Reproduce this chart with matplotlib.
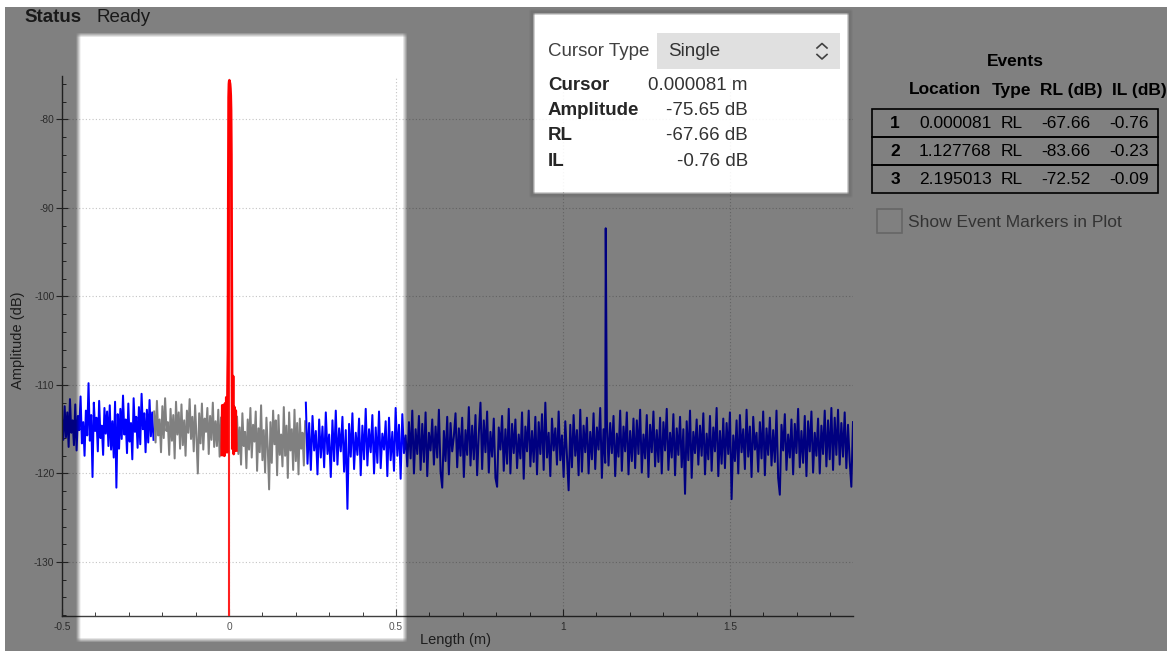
import numpy as np
import matplotlib
matplotlib.use("Agg")
import matplotlib.pyplot as plt
from matplotlib.patches import Rectangle
from matplotlib.lines import Line2D
from matplotlib.ticker import MultipleLocator

plt.rcParams['font.family'] = ['Liberation Sans', 'DejaVu Sans']

# ---- trace data (dB) ----
# left blue segment, -0.5 .. -0.226 m
left_blue = [
    -113.8, -116.2, -112.4, -115.9, -113.1, -117.0, -111.6, -115.4, -114.0, -116.8,
    -112.2, -117.4, -113.5, -115.1, -111.3, -116.6, -114.2, -118.0, -112.9, -115.7,
    -109.8, -116.3, -113.4, -120.4, -112.0, -115.2, -113.7, -117.5, -111.8, -116.0,
    -114.6, -117.9, -112.6, -115.5, -113.0, -116.9, -112.3, -117.3, -114.1, -118.2,
    -111.9, -121.6, -113.3, -117.2, -112.7, -116.1, -111.2, -115.6, -113.9, -117.7,
    -112.1, -116.4, -114.3, -118.4, -111.5, -115.3, -113.6, -117.1, -112.5, -116.7,
    -111.0, -115.0, -113.2, -117.6, -112.8, -116.5, -111.7, -115.8, -113.1, -116.2,
]
# grey segment left of the event, -0.224 .. -0.024 m
left_grey = [
    -113.0, -116.5, -111.8, -115.7, -113.9, -117.6, -112.4, -116.0, -111.5, -115.2,
    -114.2, -117.9, -112.7, -116.3, -113.4, -118.3, -111.9, -115.6, -113.1, -117.2,
    -112.2, -116.8, -114.0, -118.0, -112.9, -115.4, -111.6, -116.1, -113.6, -117.5,
    -112.3, -115.9, -120.0, -113.2, -116.6, -112.1, -117.3, -113.8, -115.3, -112.6,
    -117.8, -113.5, -116.2, -112.0, -117.0, -114.1, -116.9, -112.8, -118.1, -113.7,
]
# selected event (red), explicit positions
red_x = [-0.022, -0.020, -0.018, -0.016, -0.014, -0.012, -0.010, -0.008, -0.006,
         -0.004, -0.003, -0.002, -0.001, 0.000, 0.001, 0.002, 0.003, 0.004, 0.005,
         0.006, 0.007, 0.008, 0.009, 0.010, 0.012, 0.014, 0.016, 0.018, 0.020, 0.022]
red_y = [-117.9, -112.3, -117.5, -112.8, -118.0, -112.1, -116.9, -111.4, -117.6,
         -109.2, -106.0, -88.0, -77.5, -76.0, -75.6, -75.8, -76.0, -76.5, -77.3,
         -79.0, -84.0, -97.0, -108.5, -117.2, -109.0, -117.8, -112.5, -116.6, -112.9, -117.4]
# grey segment right of the event, 0.024 .. 0.228 m
right_grey = [
    -113.6, -117.8, -114.8, -119.0, -113.2, -116.9, -115.3, -119.4, -113.9, -117.3,
    -112.6, -118.2, -114.5, -116.4, -113.0, -119.7, -114.9, -117.6, -112.3, -118.5,
    -115.1, -119.9, -113.7, -117.1, -121.8, -114.2, -118.8, -112.9, -116.7, -114.0,
    -120.2, -113.4, -117.9, -115.6, -119.2, -112.5, -118.0, -114.6, -120.5, -113.1,
    -117.4, -115.0, -119.6, -112.8, -118.6, -114.3, -120.1, -113.8, -117.2, -115.4,
    -119.1, -114.1,
]
# blue segment, 0.230 .. 1.868 m
right_blue = [
    -112.0, -118.9, -114.3, -119.6, -113.5, -117.4, -115.2, -120.1, -113.9, -118.2,
    -114.7, -119.3, -113.1, -117.8, -115.6, -120.4, -114.0, -118.6, -112.9, -119.0,
    -114.9, -117.5, -113.6, -119.8, -115.1, -124.0, -114.4, -118.1, -113.2, -119.5,
    -115.4, -117.9, -113.8, -120.2, -114.6, -118.4, -112.7, -119.1, -115.0, -117.6,
    -113.4, -120.0, -114.8, -118.8, -113.0, -119.4, -115.5, -117.3, -114.1, -120.3,
    -113.7, -118.5, -115.3, -119.7, -112.6, -118.0, -114.5, -120.6, -113.3, -117.7,
    -115.7, -119.2, -114.2, -118.3, -112.9, -120.0, -115.0, -117.8, -113.5, -119.6,
    -114.4, -118.7, -113.1, -120.3, -115.4, -117.4, -113.9, -119.0, -114.7, -118.2,
    -112.8, -119.8, -121.6, -115.2, -118.6, -113.6, -120.1, -114.3, -117.5, -115.8,
    -113.2, -119.3, -114.9, -118.0, -113.7, -120.4, -115.1, -117.9, -112.5, -119.1,
    -114.6, -118.4, -113.4, -120.2, -115.5, -112.0, -119.5, -114.0, -117.6, -113.0,
    -119.9, -115.3, -118.1, -113.8, -120.5, -121.5, -114.8, -117.3, -113.5, -119.7,
    -115.0, -118.9, -112.7, -120.0, -114.4, -117.7, -113.9, -119.4, -115.6, -118.3,
    -113.1, -120.6, -114.7, -117.5, -112.9, -119.2, -115.2, -118.7, -113.6, -120.1,
    -114.2, -117.8, -113.3, -119.6, -112.0, -118.2, -115.4, -120.3, -113.8, -117.4,
    -114.9, -119.0, -113.0, -118.5, -115.7, -120.4, -114.1, -117.9, -121.9, -114.5,
    -119.3, -113.4, -118.0, -115.1, -120.2, -112.8, -119.8, -114.6, -117.6, -113.7,
    -120.0, -115.3, -118.4, -113.2, -119.5, -114.8, -117.3, -112.6, -120.5, -115.0,
    -118.8, -113.9, -119.1, -114.3, -117.7, -113.5, -120.3, -115.5, -118.1, -112.9,
    -119.7, -114.7, -117.5, -113.1, -120.1, -115.2, -118.6, -113.8, -119.4, -114.0,
    -117.8, -112.8, -119.9, -115.6, -118.3, -113.4, -120.4, -114.5, -117.6, -113.0,
    -119.2, -115.1, -118.7, -113.7, -120.0, -114.2, -117.4, -112.7, -119.6, -115.4,
    -118.2, -113.3, -120.2, -114.9, -117.9, -113.6, -119.3, -115.0, -122.3, -114.1,
    -118.5, -112.9, -120.5, -115.3, -117.7, -113.9, -119.0, -114.6, -118.0, -113.2,
    -120.1, -115.5, -118.4, -113.5, -119.7, -114.8, -117.5, -112.6, -120.3, -115.2,
    -118.9, -113.8, -119.4, -114.3, -117.8, -113.1, -122.9, -115.7, -118.6, -114.0,
    -120.0, -113.4, -117.6, -115.0, -119.5, -112.8, -118.1, -114.7, -120.4, -113.6,
    -117.3, -115.4, -119.8, -114.2, -118.3, -113.0, -120.2, -114.9, -117.9, -113.7,
    -119.1, -115.1, -118.7, -112.9, -120.5, -122.4, -114.5, -117.4, -113.3, -119.6,
    -115.6, -118.2, -113.9, -120.1, -114.4, -117.7, -112.7, -119.3, -115.2, -118.8,
    -113.5, -120.3, -114.1, -117.5, -113.0, -119.9, -115.4, -118.0, -113.8, -120.0,
    -114.6, -117.8, -112.9, -119.2, -114.0, -118.4, -112.6, -119.6, -113.7, -117.9,
    -112.8, -119.0, -114.3, -118.1, -113.1, -119.4, -114.5, -118.6, -121.5, -114.2,
]
# reflection at event 2
spike_x = 1.127768
spike_amp = -92.3

# cursor readout
cursor_pos = 0.000081
cursor_amp = -75.65
cursor_rl = -67.66
cursor_il = -0.76

# events table
event_num = [1, 2, 3]
event_loc = ['0.000081', '1.127768', '2.195013']
event_type = ['RL', 'RL', 'RL']
event_rl = [-67.66, -83.66, -72.52]
event_il = [-0.76, -0.23, -0.09]

xticks = [-0.5, 0, 0.5, 1, 1.5]
xtick_labels = ['-0.5', '0', '0.5', '1', '1.5']
yticks = [-130, -120, -110, -100, -90, -80]
ytick_labels = ['-130', '-120', '-110', '-100', '-90', '-80']

W, H = 1167, 651


def fx(px):
    return px / W


def fy(py):
    return 1 - py / H


fig = plt.figure(figsize=(W / 100, H / 100), dpi=100)
fig.patch.set_facecolor('white')

ax = fig.add_axes([fx(62), fy(616), (853 - 62) / W, (616 - 76) / H])
ax.set_facecolor('white')

xb = np.linspace(0.230, 1.868, len(right_blue))
yb = np.array(right_blue)
k = np.searchsorted(xb, spike_x)
xb = np.insert(xb, k, spike_x)
yb = np.insert(yb, k, spike_amp)

lw = 1.45
ax.plot(np.linspace(-0.5, -0.226, len(left_blue)), left_blue, color='#0000ff', lw=lw)
ax.plot(np.linspace(-0.224, -0.024, len(left_grey)), left_grey, color='#808080', lw=lw)
ax.plot(np.linspace(0.024, 0.228, len(right_grey)), right_grey, color='#808080', lw=lw)
ax.plot(xb, yb, color='#0000ff', lw=lw)
# cursor line and selected event
ax.vlines(cursor_pos, -136.1, cursor_amp, color='#ff2020', lw=1.5, zorder=3)
ax.plot(red_x, red_y, color='#ff0000', lw=2.0, zorder=4)

ax.set_xlim(-0.5, 1.868)
ax.set_ylim(-136.1, -75.1)
ax.set_xticks(xticks, labels=xtick_labels)
ax.set_yticks(yticks, labels=ytick_labels)
ax.xaxis.set_minor_locator(MultipleLocator(0.1))
ax.yaxis.set_minor_locator(MultipleLocator(2))
ax.grid(True, which='major', color='#c4c4c4', ls=(0, (1, 2)), lw=0.8)
ax.set_axisbelow(True)
for s in ['top', 'right']:
    ax.spines[s].set_visible(False)
for s in ['left', 'bottom']:
    ax.spines[s].set_color('#404040')
    ax.spines[s].set_linewidth(1.0)
ax.tick_params(axis='x', which='major', direction='in', length=5, width=0.8,
               color='#404040', labelsize=7.3, labelcolor='#555555', pad=4)
ax.tick_params(axis='x', which='minor', direction='in', length=3, width=0.7, color='#404040')
ax.tick_params(axis='y', which='major', direction='inout', length=8, width=0.8,
               color='#404040', labelsize=7.3, labelcolor='#555555', pad=1.5)
ax.tick_params(axis='y', which='minor', direction='in', length=3, width=0.7, color='#404040')

fig.text(fx(455), fy(640), 'Length (m)', ha='center', va='center', fontsize=10.5, color='#3a3a3a')
fig.text(fx(18), fy(340), 'Amplitude (dB)', ha='center', va='center', rotation=90,
         fontsize=10.5, color='#3a3a3a')

# status line
fig.text(fx(24), fy(17.5), 'Status', ha='left', va='center', fontsize=13.5,
         fontweight='bold', color='#333333')
fig.text(fx(96), fy(17.5), 'Ready', ha='left', va='center', fontsize=13.5, color='#333333')

# cursor panel
fig.add_artist(Rectangle((fx(535), fy(192)), (847 - 535) / W, (192 - 15) / H,
                         transform=fig.transFigure, facecolor='white', alpha=0.85,
                         edgecolor='none', zorder=5))
fig.add_artist(Rectangle((fx(657), fy(69)), (840 - 657) / W, (69 - 33) / H,
                         transform=fig.transFigure, facecolor='#e0e0e0',
                         edgecolor='none', zorder=6))
fig.add_artist(Line2D([fx(817), fx(822), fx(827)], [fy(48), fy(43.5), fy(48)],
                      transform=fig.transFigure, color='#404040', lw=1.2, zorder=7))
fig.add_artist(Line2D([fx(817), fx(822), fx(827)], [fy(54.5), fy(59), fy(54.5)],
                      transform=fig.transFigure, color='#404040', lw=1.2, zorder=7))
fig.text(fx(548), fy(51.5), 'Cursor Type', ha='left', va='center', fontsize=13.5,
         color='#404040', zorder=7)
fig.text(fx(668), fy(52), 'Single', ha='left', va='center', fontsize=13.5,
         color='#333333', zorder=7)
rows = [('Cursor', f'{cursor_pos:.6f} m', 85.5),
        ('Amplitude', f'{cursor_amp:.2f} dB', 110.5),
        ('RL', f'{cursor_rl:.2f} dB', 136),
        ('IL', f'{cursor_il:.2f} dB', 161.5)]
for name, val, y in rows:
    fig.text(fx(548), fy(y), name, ha='left', va='center', fontsize=13.5,
             fontweight='bold', color='#262626', zorder=7)
    fig.text(fx(748), fy(y), val, ha='right', va='center', fontsize=13.5,
             color='#333333', zorder=7)

# events panel
fig.text(fx(1015), fy(62), 'Events', ha='center', va='center', fontsize=12.5,
         fontweight='bold', color='black')
for lab, x in [('Location', 909), ('Type', 992), ('RL (dB)', 1040), ('IL (dB)', 1112)]:
    fig.text(fx(x), fy(90), lab, ha='left', va='center', fontsize=12.5,
             fontweight='bold', color='black')
row_top = [109, 137, 165]
for i in range(len(event_num)):
    t = row_top[i]
    fig.add_artist(Rectangle((fx(872), fy(t + 28)), (1158 - 872) / W, 28 / H,
                             transform=fig.transFigure, facecolor='none',
                             edgecolor='black', lw=1.2))
    yc = t + 14
    fig.text(fx(895), fy(yc), str(event_num[i]), ha='center', va='center',
             fontsize=12.5, fontweight='bold', color='black')
    fig.text(fx(919), fy(yc), event_loc[i], ha='left', va='center', fontsize=12.5, color='black')
    fig.text(fx(1001), fy(yc), event_type[i], ha='left', va='center', fontsize=12.5, color='black')
    fig.text(fx(1090), fy(yc), f'{event_rl[i]:.2f}', ha='right', va='center',
             fontsize=12.5, color='black')
    fig.text(fx(1149), fy(yc), f'{event_il[i]:.2f}', ha='right', va='center',
             fontsize=12.5, color='black')
fig.add_artist(Rectangle((fx(877), fy(233)), 25 / W, 24 / H, transform=fig.transFigure,
                         facecolor='white', edgecolor='#cccccc', lw=1.2))
fig.text(fx(908), fy(222), 'Show Event Markers in Plot', ha='left', va='center',
         fontsize=12.5, color='#666666')

# dim overlay with highlighted regions
yy, xx = np.mgrid[0:H, 0:W] + 0.5


def soft_box(x0, x1, y0, y1, s):
    mx = np.clip((xx - x0) / s + 0.5, 0, 1) * np.clip((x1 - xx) / s + 0.5, 0, 1)
    my = np.clip((yy - y0) / s + 0.5, 0, 1) * np.clip((y1 - yy) / s + 0.5, 0, 1)
    return mx * my


lit = np.maximum(soft_box(78.5, 405, 35, 640, 5), soft_box(534, 848, 14, 193, 3))
lit = np.maximum(lit, (yy < 7) | (xx < 5))
shade = np.clip(soft_box(530, 852, 10, 197, 3) - soft_box(534, 848, 14, 193, 3), 0, 1)
overlay = np.zeros((H, W, 4))
overlay[..., 3] = np.clip(0.5 * (1 - lit) + 0.05 * shade, 0, 1)
fig.figimage(overlay, xo=0, yo=0, origin='upper', zorder=100)

fig.savefig('out.png', dpi=100)
